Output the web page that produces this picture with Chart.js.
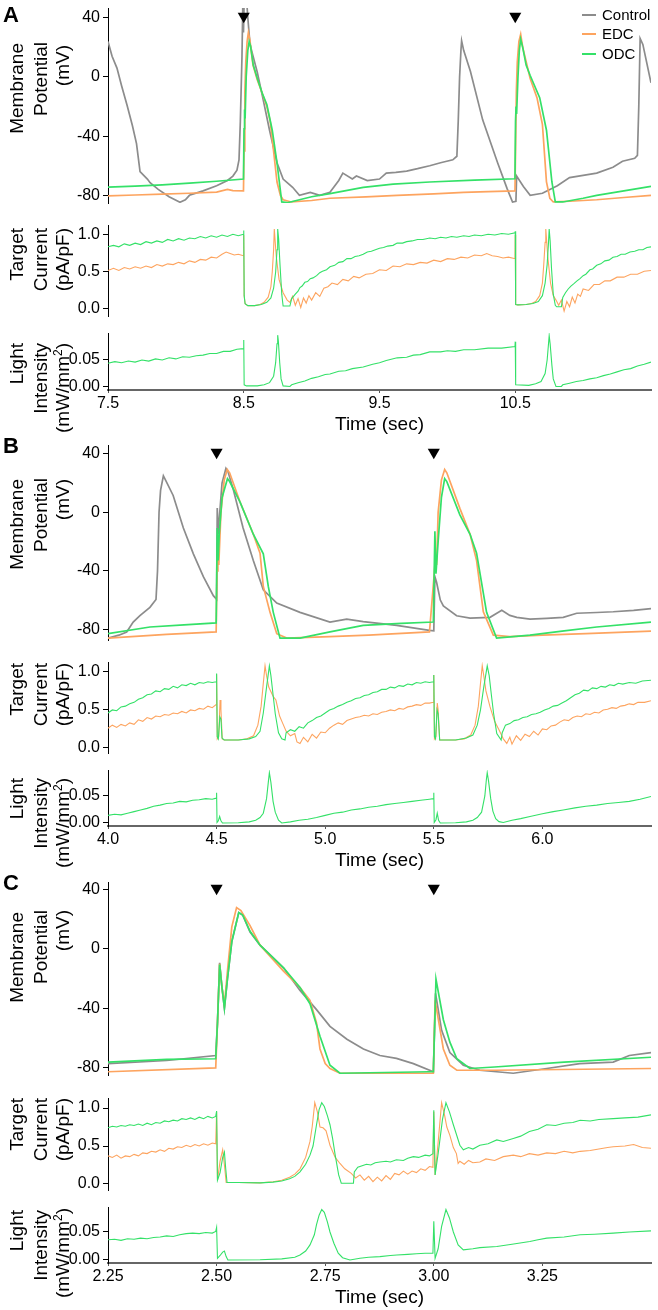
<!DOCTYPE html>
<html><head><meta charset="utf-8">
<script src="https://cdn.jsdelivr.net/npm/chart.js@4.4.1/dist/chart.umd.min.js"></script>
<style>
body{margin:0;background:#fff;width:658px;height:1310px;position:relative;overflow:hidden;font-family:"Liberation Sans",Arial,Helvetica,sans-serif;color:#000;}
canvas{position:absolute;left:0;}
.yt{position:absolute;width:150px;height:22px;line-height:22px;font-size:19px;white-space:nowrap;text-align:right;transform-origin:0 0;transform:rotate(-90deg);}
.yt sup{font-size:12px;line-height:0;}
.pl{position:absolute;left:3px;font-size:22px;font-weight:bold;line-height:22px;}
.lg{position:absolute;left:602px;font-size:15px;line-height:18px;white-space:nowrap;}
.ls{position:absolute;left:582px;width:14px;height:2px;}
</style></head>
<body>
<canvas id="aMem" width="658" height="210" style="top:0px"></canvas>
<canvas id="aCur" width="658" height="105" style="top:215px"></canvas>
<canvas id="aLight" width="658" height="115" style="top:325px"></canvas>
<canvas id="bMem" width="658" height="210" style="top:437px"></canvas>
<canvas id="bCur" width="658" height="105" style="top:652px"></canvas>
<canvas id="bLight" width="658" height="114" style="top:762px"></canvas>
<canvas id="cMem" width="658" height="208" style="top:874px"></canvas>
<canvas id="cCur" width="658" height="106" style="top:1088px"></canvas>
<canvas id="cLight" width="658" height="114" style="top:1199px"></canvas>

<div class="pl" style="top:4px">A</div>
<div class="pl" style="top:435px">B</div>
<div class="pl" style="top:872px">C</div>

<div class="yt" style="left:6px;top:193px">Membrane</div>
<div class="yt" style="left:30px;top:192px">Potential</div>
<div class="yt" style="left:52px;top:195px">(mV)</div>
<div class="yt" style="left:6px;top:378px">Target</div>
<div class="yt" style="left:30px;top:378px">Current</div>
<div class="yt" style="left:52px;top:378px">(pA/pF)</div>
<div class="yt" style="left:6px;top:493px">Light</div>
<div class="yt" style="left:30px;top:493px">Intensity</div>
<div class="yt" style="left:52px;top:493px">(mW/mm<sup>2</sup>)</div>

<div class="yt" style="left:6px;top:629px">Membrane</div>
<div class="yt" style="left:30px;top:628px">Potential</div>
<div class="yt" style="left:52px;top:629px">(mV)</div>
<div class="yt" style="left:6px;top:813px">Target</div>
<div class="yt" style="left:30px;top:813px">Current</div>
<div class="yt" style="left:52px;top:813px">(pA/pF)</div>
<div class="yt" style="left:6px;top:928px">Light</div>
<div class="yt" style="left:30px;top:928px">Intensity</div>
<div class="yt" style="left:52px;top:928px">(mW/mm<sup>2</sup>)</div>

<div class="yt" style="left:6px;top:1062px">Membrane</div>
<div class="yt" style="left:30px;top:1060px">Potential</div>
<div class="yt" style="left:52px;top:1060px">(mV)</div>
<div class="yt" style="left:6px;top:1248px">Target</div>
<div class="yt" style="left:30px;top:1248px">Current</div>
<div class="yt" style="left:52px;top:1248px">(pA/pF)</div>
<div class="yt" style="left:6px;top:1360px">Light</div>
<div class="yt" style="left:30px;top:1360px">Intensity</div>
<div class="yt" style="left:52px;top:1358px">(mW/mm<sup>2</sup>)</div>

<div class="ls" style="top:14px;background:#8c8c8c"></div><div class="lg" style="top:6px">Control</div>
<div class="ls" style="top:33px;background:#fda45f"></div><div class="lg" style="top:25px">EDC</div>
<div class="ls" style="top:53px;background:#34e168"></div><div class="lg" style="top:45px">ODC</div>

<script>
// ---------- series names / colours ----------
const SERIES = ['Control', 'EDC', 'ODC'];
const GRAY = '#8c8c8c', ORANGE = '#fda45f', GREEN = '#34e168';

// ---------- tick values and labels ----------
const MEM_TICKS = [40, 0, -40, -80];
const MEM_LABELS = ['40', '0', '-40', '-80'];
const CUR_TICKS = [1.0, 0.5, 0.0];
const CUR_LABELS = ['1.0', '0.5', '0.0'];
const LIGHT_TICKS = [0.05, 0.0];
const LIGHT_LABELS = ['0.05', '0.00'];
const A_XTICKS = [7.5, 8.5, 9.5, 10.5];
const A_XLABELS = ['7.5', '8.5', '9.5', '10.5'];
const B_XTICKS = [4.0, 4.5, 5.0, 5.5, 6.0];
const B_XLABELS = ['4.0', '4.5', '5.0', '5.5', '6.0'];
const C_XTICKS = [2.25, 2.5, 2.75, 3.0, 3.25];
const C_XLABELS = ['2.25', '2.50', '2.75', '3.00', '3.25'];

// ---------- stimulus markers (time, mV) ----------
const A_STIM = [8.5, 10.5];
const B_STIM = [4.5, 5.5];
const C_STIM = [2.5, 3.0];
const STIM_MV = 41;

// ---------- Panel A: membrane potential (sec, mV) ----------
const A_MEM_CONTROL = [[7.5,24],[7.53,14],[7.566,6],[7.6,-6],[7.64,-19],[7.68,-33],[7.71,-45],[7.736,-64],[7.79,-69],[7.81,-71.5],[7.87,-76],[7.95,-81],[8.03,-84.7],[8.07,-83],[8.10,-80],[8.2,-77],[8.30,-73.5],[8.38,-70],[8.42,-67],[8.45,-63],[8.465,-56],[8.475,-30],[8.487,14],[8.495,60],[8.498,30],[8.505,60],[8.515,60],[8.53,40],[8.546,22],[8.6,3],[8.64,-14],[8.69,-36],[8.745,-58],[8.79,-69],[8.86,-74.6],[8.91,-80],[8.99,-78],[9.06,-80],[9.135,-78],[9.2,-70],[9.23,-65],[9.30,-69],[9.33,-67],[9.41,-70],[9.50,-69],[9.55,-65],[9.62,-64.5],[9.70,-63.6],[9.78,-62],[9.87,-60],[9.95,-58],[10.04,-56],[10.07,-53.6],[10.08,-30],[10.09,0],[10.1,18],[10.105,24.4],[10.12,18],[10.17,3.7],[10.26,-29],[10.37,-58],[10.44,-75.5],[10.48,-84.5],[10.505,-84],[10.51,-67],[10.56,-74],[10.61,-80],[10.70,-78.6],[10.81,-73.5],[10.90,-68],[11.0,-66.5],[11.1,-65],[11.22,-61],[11.29,-57],[11.38,-55],[11.40,-53],[11.41,-20],[11.42,26],[11.44,22],[11.47,9],[11.5,-4]];
const A_MEM_EDC = [[7.5,-80.4],[7.7,-79.8],[7.9,-79.2],[8.1,-78.6],[8.3,-77.8],[8.38,-76],[8.42,-76.8],[8.498,-77],[8.502,-50],[8.508,-10],[8.515,10],[8.525,24],[8.534,29.9],[8.545,25],[8.568,8],[8.6,-2],[8.64,-12],[8.67,-20],[8.695,-30],[8.716,-47],[8.745,-71],[8.77,-80],[8.79,-83],[8.85,-84.5],[9.0,-83.5],[9.135,-82],[9.4,-81],[9.63,-80],[9.9,-79],[10.12,-78],[10.3,-77.5],[10.498,-77],[10.502,-50],[10.508,-10],[10.515,10],[10.527,24],[10.54,28.8],[10.555,20],[10.61,-1],[10.66,-14],[10.70,-32],[10.73,-71],[10.755,-82],[10.78,-84.5],[10.9,-84],[11.1,-83],[11.3,-81.5],[11.5,-80]];
const A_MEM_ODC = [[7.5,-74.5],[7.7,-73.8],[7.9,-73],[8.1,-71.8],[8.3,-70.5],[8.498,-69],[8.502,-35],[8.506,-22],[8.51,-28],[8.518,0],[8.53,18],[8.54,24],[8.55,21],[8.57,8],[8.6,-1],[8.64,-12],[8.67,-18.6],[8.71,-36],[8.745,-58],[8.78,-84.5],[8.82,-85],[9.0,-81],[9.135,-78.9],[9.38,-74.6],[9.6,-72.5],[9.87,-71],[10.2,-69.8],[10.498,-68.8],[10.502,-30],[10.506,-20],[10.51,-25],[10.52,0],[10.53,18],[10.54,25.5],[10.555,20],[10.58,8],[10.61,1],[10.68,-14],[10.73,-36],[10.77,-71],[10.795,-84.5],[10.85,-84.5],[11.0,-82],[11.1,-80],[11.3,-77],[11.5,-74]];

// ---------- Panel A: target current (sec, pA/pF) ----------
const A_CUR_EDC = [[7.50,.52],[7.54,.55],[7.58,.52],[7.62,.56],[7.66,.54],[7.70,.57],[7.74,.55],[7.78,.58],[7.82,.56],[7.86,.60],[7.90,.58],[7.94,.61],[7.98,.60],[8.02,.63],[8.06,.61],[8.10,.65],[8.14,.63],[8.18,.67],[8.22,.66],[8.26,.70],[8.30,.69],[8.34,.74],[8.37,.77],[8.40,.75],[8.43,.73],[8.46,.74],[8.498,.72],[8.5,1.0],[8.503,.18],[8.51,.07],[8.53,.045],[8.58,.045],[8.62,.06],[8.65,.09],[8.68,.16],[8.70,.3],[8.71,.5],[8.72,.8],[8.725,1.08],[8.732,.9],[8.74,.7],[8.76,.4],[8.79,.22],[8.82,.12],[8.84,.09],[8.86,.17],[8.88,.05],[8.90,.14],[8.92,.02],[8.94,.15],[8.96,.08],[8.98,.18],[9.0,.12],[9.03,.22],[9.06,.17],[9.09,.28],[9.12,.30],[9.15,.35],[9.19,.33],[9.23,.40],[9.27,.38],[9.31,.44],[9.35,.42],[9.4,.47],[9.45,.48],[9.5,.53],[9.55,.52],[9.6,.58],[9.65,.57],[9.7,.61],[9.75,.60],[9.8,.63],[9.85,.62],[9.9,.66],[9.95,.64],[10.0,.68],[10.05,.67],[10.1,.70],[10.15,.69],[10.2,.73],[10.25,.72],[10.29,.75],[10.33,.72],[10.37,.71],[10.41,.69],[10.45,.70],[10.498,.68],[10.5,1.0],[10.503,.06],[10.52,.055],[10.58,.06],[10.62,.075],[10.65,.1],[10.68,.18],[10.70,.35],[10.71,.6],[10.72,.9],[10.725,1.08],[10.732,.9],[10.74,.7],[10.76,.35],[10.78,.18],[10.8,.12],[10.82,.05],[10.84,.12],[10.86,-.03],[10.88,.10],[10.9,.03],[10.92,.16],[10.94,.08],[10.96,.20],[10.98,.17],[11.0,.27],[11.04,.25],[11.08,.33],[11.12,.33],[11.16,.38],[11.2,.38],[11.25,.43],[11.3,.43],[11.35,.47],[11.4,.47],[11.45,.51],[11.5,.52]];
const A_CUR_ODC = [[7.50,.84],[7.54,.86],[7.58,.84],[7.62,.88],[7.66,.86],[7.70,.89],[7.74,.87],[7.78,.91],[7.82,.89],[7.86,.92],[7.90,.90],[7.94,.94],[7.98,.92],[8.02,.95],[8.06,.93],[8.10,.96],[8.14,.95],[8.18,.98],[8.22,.96],[8.26,.99],[8.30,.97],[8.34,1.0],[8.38,.98],[8.42,1.01],[8.46,.99],[8.498,1.01],[8.5,1.06],[8.503,.18],[8.51,.07],[8.53,.045],[8.58,.045],[8.63,.06],[8.67,.09],[8.70,.15],[8.72,.28],[8.735,.5],[8.745,.8],[8.75,1.08],[8.757,.95],[8.767,.6],[8.78,.2],[8.79,.04],[8.84,.04],[8.853,.14],[8.88,.2],[8.9,.24],[8.914,.29],[8.93,.31],[8.95,.36],[8.97,.37],[8.99,.41],[9.01,.42],[9.037,.45],[9.06,.49],[9.08,.51],[9.11,.53],[9.135,.57],[9.17,.59],[9.2,.63],[9.23,.64],[9.26,.68],[9.29,.68],[9.32,.71],[9.35,.72],[9.38,.74],[9.41,.77],[9.44,.78],[9.47,.80],[9.5,.82],[9.53,.83],[9.56,.85],[9.6,.86],[9.63,.89],[9.67,.89],[9.7,.91],[9.74,.92],[9.78,.94],[9.82,.94],[9.87,.96],[9.91,.95],[9.95,.97],[9.99,.96],[10.03,.98],[10.07,.97],[10.12,.99],[10.16,.98],[10.2,1.0],[10.25,.99],[10.3,1.01],[10.35,1.0],[10.4,1.02],[10.45,1.01],[10.498,1.03],[10.5,1.05],[10.503,.06],[10.52,.055],[10.58,.06],[10.63,.075],[10.67,.1],[10.7,.18],[10.72,.35],[10.735,.6],[10.745,.9],[10.75,1.08],[10.757,.92],[10.767,.55],[10.78,.2],[10.795,.05],[10.805,.03],[10.84,.03],[10.85,.155],[10.87,.22],[10.89,.27],[10.91,.31],[10.93,.34],[10.955,.38],[10.977,.41],[11.0,.45],[11.02,.47],[11.05,.53],[11.07,.54],[11.1,.59],[11.13,.61],[11.16,.65],[11.19,.66],[11.22,.70],[11.25,.71],[11.28,.74],[11.31,.74],[11.345,.77],[11.38,.78],[11.41,.80],[11.44,.80],[11.47,.83],[11.5,.84]];

// ---------- Panel A: light intensity (sec, mW/mm2) ----------
const A_LIGHT_ODC = [[7.5,.044],[7.55,.047],[7.6,.045],[7.65,.048],[7.7,.046],[7.75,.050],[7.8,.048],[7.85,.052],[7.9,.050],[7.95,.054],[8.0,.052],[8.05,.056],[8.1,.055],[8.15,.058],[8.2,.059],[8.25,.062],[8.3,.062],[8.35,.066],[8.4,.066],[8.45,.070],[8.498,.071],[8.5,.087],[8.503,.004],[8.52,.002],[8.6,.002],[8.65,.004],[8.69,.008],[8.72,.02],[8.735,.045],[8.745,.08],[8.75,.096],[8.755,.085],[8.765,.045],[8.775,.015],[8.79,.002],[8.84,.001],[8.853,.004],[8.9,.008],[8.95,.011],[9.0,.016],[9.05,.019],[9.1,.023],[9.135,.024],[9.2,.029],[9.25,.030],[9.3,.034],[9.38,.037],[9.45,.042],[9.5,.045],[9.55,.049],[9.63,.054],[9.7,.055],[9.75,.059],[9.8,.060],[9.87,.065],[9.95,.065],[10.0,.067],[10.06,.066],[10.12,.069],[10.2,.069],[10.3,.072],[10.4,.072],[10.498,.075],[10.5,.084],[10.503,.004],[10.6,.003],[10.65,.006],[10.69,.01],[10.72,.025],[10.735,.05],[10.745,.08],[10.75,.095],[10.757,.08],[10.77,.04],[10.78,.015],[10.8,.001],[10.84,.001],[10.85,.004],[10.9,.007],[10.95,.010],[11.0,.012],[11.05,.015],[11.1,.017],[11.15,.021],[11.2,.024],[11.25,.028],[11.3,.032],[11.35,.034],[11.4,.039],[11.45,.042],[11.5,.046]];

// ---------- Panel B: membrane potential ----------
const B_MEM_CONTROL = [[4.0,-86],[4.05,-84],[4.086,-81.8],[4.116,-75],[4.147,-70.7],[4.193,-65],[4.221,-59.6],[4.228,-40],[4.235,0],[4.242,15],[4.255,24.9],[4.265,22],[4.30,11.5],[4.347,-10.7],[4.393,-28.4],[4.439,-44],[4.485,-57],[4.5,-59.5],[4.503,3],[4.507,-15],[4.512,-5],[4.525,20],[4.543,30],[4.552,28],[4.576,16],[4.622,-10.7],[4.669,-33],[4.715,-53],[4.777,-62],[4.884,-68.4],[5.022,-75],[5.099,-73],[5.175,-74.7],[5.329,-77.3],[5.48,-80.7],[5.5,-81],[5.505,-44],[5.513,-48],[5.53,-60],[5.544,-64],[5.605,-70.7],[5.667,-72.4],[5.759,-71.8],[5.79,-69],[5.813,-67],[5.85,-70.5],[5.882,-71.8],[5.943,-73],[6.02,-72.5],[6.096,-71.8],[6.158,-69],[6.25,-68.5],[6.326,-68],[6.42,-67],[6.5,-65.8]];
const B_MEM_EDC = [[4.0,-86],[4.27,-83.5],[4.498,-81.8],[4.502,-40],[4.506,-30],[4.51,-36],[4.52,0],[4.535,22],[4.549,29.3],[4.56,27],[4.608,7],[4.669,-15],[4.70,-28],[4.715,-50.7],[4.746,-68.4],[4.777,-83],[4.823,-86],[5.02,-85],[5.2,-84],[5.48,-81.8],[5.502,-42],[5.508,-30],[5.513,-36],[5.52,0],[5.535,22],[5.55,29.3],[5.56,27],[5.62,2.7],[5.667,-15],[5.697,-33],[5.728,-68],[5.774,-84],[5.85,-85],[6.0,-84],[6.2,-83],[6.5,-81.3]];
const B_MEM_ODC = [[4.0,-82.9],[4.193,-78.4],[4.35,-77],[4.498,-75.6],[4.503,-10.7],[4.507,-33],[4.512,-15],[4.525,10],[4.55,23],[4.56,21],[4.608,7],[4.669,-15],[4.715,-28.4],[4.738,-50.7],[4.761,-68.4],[4.792,-86],[4.884,-86],[5.022,-81.8],[5.175,-77.3],[5.35,-76],[5.498,-75],[5.505,-13],[5.51,-42],[5.52,-20],[5.535,10],[5.55,23],[5.56,21],[5.62,-1.8],[5.667,-15],[5.697,-28],[5.743,-68.4],[5.789,-86],[5.943,-84],[6.1,-81],[6.25,-78.4],[6.5,-75.1]];

// ---------- Panel B: target current ----------
const B_CUR_EDC = [[4.00,.26],[4.02,.30],[4.04,.27],[4.06,.31],[4.08,.29],[4.10,.33],[4.12,.31],[4.14,.37],[4.16,.35],[4.18,.40],[4.20,.38],[4.22,.42],[4.24,.41],[4.26,.44],[4.28,.43],[4.30,.46],[4.32,.45],[4.34,.48],[4.36,.46],[4.38,.50],[4.40,.49],[4.42,.52],[4.44,.51],[4.46,.55],[4.48,.53],[4.498,.57],[4.5,.97],[4.503,.12],[4.51,.15],[4.516,.63],[4.52,.5],[4.526,.12],[4.535,.105],[4.6,.105],[4.64,.12],[4.67,.16],[4.69,.3],[4.705,.55],[4.715,.85],[4.723,1.08],[4.73,.95],[4.74,.8],[4.76,.68],[4.773,.63],[4.79,.42],[4.805,.32],[4.82,.22],[4.84,.16],[4.86,.19],[4.87,.08],[4.884,.06],[4.9,.14],[4.92,.08],[4.94,.18],[4.96,.13],[4.98,.21],[5.0,.20],[5.02,.26],[5.04,.30],[5.06,.33],[5.08,.31],[5.1,.36],[5.12,.38],[5.14,.40],[5.16,.41],[5.18,.43],[5.2,.42],[5.22,.45],[5.24,.44],[5.26,.47],[5.28,.48],[5.3,.50],[5.32,.49],[5.34,.52],[5.36,.51],[5.38,.54],[5.4,.55],[5.42,.57],[5.44,.56],[5.46,.59],[5.48,.59],[5.498,.60],[5.5,.96],[5.503,.12],[5.51,.15],[5.516,.59],[5.52,.5],[5.527,.105],[5.6,.105],[5.64,.12],[5.67,.17],[5.69,.3],[5.705,.55],[5.715,.85],[5.723,1.08],[5.73,.95],[5.74,.75],[5.759,.54],[5.78,.35],[5.8,.24],[5.81,.18],[5.82,.12],[5.836,.06],[5.85,.14],[5.86,.05],[5.88,.16],[5.9,.10],[5.92,.18],[5.94,.15],[5.96,.22],[5.98,.17],[6.0,.25],[6.02,.24],[6.04,.29],[6.06,.30],[6.08,.34],[6.1,.37],[6.12,.36],[6.14,.40],[6.16,.42],[6.18,.41],[6.2,.45],[6.22,.44],[6.24,.47],[6.26,.46],[6.28,.50],[6.3,.51],[6.32,.53],[6.34,.52],[6.36,.55],[6.38,.56],[6.4,.58],[6.42,.57],[6.44,.60],[6.47,.60],[6.5,.62]];
const B_CUR_ODC = [[4.00,.46],[4.02,.50],[4.04,.49],[4.06,.54],[4.08,.55],[4.10,.58],[4.12,.60],[4.14,.64],[4.16,.66],[4.18,.70],[4.20,.71],[4.22,.75],[4.24,.74],[4.26,.78],[4.28,.77],[4.30,.81],[4.32,.79],[4.34,.83],[4.36,.82],[4.38,.85],[4.40,.83],[4.42,.86],[4.44,.85],[4.46,.87],[4.48,.86],[4.498,.87],[4.5,.98],[4.503,.15],[4.508,.12],[4.515,.41],[4.52,.38],[4.525,.13],[4.535,.105],[4.6,.105],[4.65,.12],[4.68,.15],[4.7,.22],[4.715,.46],[4.73,.8],[4.743,1.08],[4.75,.95],[4.76,.7],[4.77,.45],[4.785,.2],[4.8,.12],[4.815,.105],[4.82,.2],[4.84,.24],[4.86,.22],[4.88,.28],[4.9,.26],[4.92,.33],[4.94,.36],[4.96,.40],[4.98,.42],[5.0,.46],[5.02,.50],[5.04,.52],[5.06,.55],[5.08,.57],[5.10,.60],[5.12,.62],[5.14,.65],[5.16,.66],[5.18,.69],[5.2,.70],[5.22,.73],[5.24,.74],[5.26,.77],[5.28,.77],[5.3,.80],[5.32,.79],[5.34,.82],[5.36,.81],[5.38,.84],[5.40,.83],[5.42,.86],[5.44,.85],[5.46,.87],[5.48,.86],[5.498,.87],[5.5,.96],[5.503,.15],[5.508,.12],[5.515,.5],[5.52,.45],[5.527,.105],[5.6,.105],[5.65,.13],[5.68,.17],[5.7,.3],[5.715,.5],[5.73,.8],[5.746,1.08],[5.755,.95],[5.765,.7],[5.775,.46],[5.79,.19],[5.81,.105],[5.815,.2],[5.83,.30],[5.85,.32],[5.87,.36],[5.89,.37],[5.91,.40],[5.93,.41],[5.95,.44],[5.97,.45],[5.99,.47],[6.01,.50],[6.03,.52],[6.05,.55],[6.07,.56],[6.09,.59],[6.11,.62],[6.13,.66],[6.15,.70],[6.17,.72],[6.19,.76],[6.21,.75],[6.23,.79],[6.25,.78],[6.27,.81],[6.29,.80],[6.31,.83],[6.33,.82],[6.35,.85],[6.37,.84],[6.40,.86],[6.43,.85],[6.46,.88],[6.5,.89]];

// ---------- Panel B: light intensity ----------
const B_LIGHT_ODC = [[4.00,.014],[4.03,.016],[4.06,.015],[4.09,.018],[4.12,.021],[4.15,.024],[4.18,.027],[4.21,.031],[4.24,.033],[4.27,.036],[4.30,.037],[4.33,.040],[4.36,.039],[4.39,.042],[4.42,.043],[4.45,.045],[4.48,.044],[4.498,.046],[4.5,.056],[4.502,.001],[4.508,.004],[4.514,.012],[4.52,.004],[4.527,.0],[4.6,.0005],[4.65,.002],[4.68,.005],[4.7,.01],[4.715,.018],[4.73,.045],[4.738,.075],[4.743,.093],[4.75,.075],[4.76,.04],[4.77,.02],[4.785,.005],[4.8,.0],[4.84,.002],[4.88,.005],[4.92,.007],[4.96,.010],[5.0,.014],[5.04,.018],[5.08,.020],[5.12,.024],[5.16,.026],[5.2,.029],[5.24,.031],[5.28,.034],[5.32,.036],[5.36,.038],[5.40,.040],[5.44,.042],[5.48,.044],[5.498,.045],[5.5,.056],[5.502,.001],[5.51,.006],[5.516,.018],[5.522,.005],[5.53,.0],[5.6,.0005],[5.65,.002],[5.68,.005],[5.7,.01],[5.72,.02],[5.735,.05],[5.742,.08],[5.746,.093],[5.752,.078],[5.762,.045],[5.772,.022],[5.785,.008],[5.8,.0025],[5.82,.001],[5.86,.005],[5.9,.008],[5.943,.012],[6.0,.017],[6.05,.021],[6.096,.024],[6.15,.028],[6.2,.031],[6.25,.033],[6.3,.036],[6.35,.038],[6.4,.040],[6.45,.044],[6.5,.049]];

// ---------- Panel C: membrane potential ----------
const C_MEM_CONTROL = [[2.25,-77.5],[2.385,-75.4],[2.498,-72],[2.502,-50],[2.507,-9.4],[2.512,-25],[2.518,-40],[2.525,-20],[2.535,5],[2.551,24.6],[2.56,23],[2.577,11.5],[2.6,2.6],[2.654,-12.7],[2.692,-28],[2.73,-41],[2.761,-52.3],[2.80,-61],[2.838,-67.6],[2.876,-72],[2.914,-74],[2.953,-77.5],[2.999,-83],[3.004,-30],[3.018,-55],[3.037,-70],[3.068,-78.6],[3.106,-82],[3.183,-84],[3.26,-80.8],[3.336,-77.5],[3.413,-76.5],[3.45,-72],[3.5,-70]];
const C_MEM_EDC = [[2.25,-83],[2.498,-80.4],[2.502,-50],[2.507,-10],[2.512,-25],[2.518,-38],[2.525,-15],[2.535,15],[2.546,28],[2.556,26],[2.577,15.8],[2.6,2.6],[2.654,-15],[2.692,-26],[2.715,-34.7],[2.73,-50],[2.738,-67.6],[2.75,-77.5],[2.761,-80.8],[2.784,-84],[2.999,-84],[3.003,-34.7],[3.022,-67.6],[3.037,-78.6],[3.053,-82],[3.14,-82],[3.5,-80.8]];
const C_MEM_ODC = [[2.25,-76.5],[2.385,-74.7],[2.498,-74.2],[2.502,-50],[2.507,-10.5],[2.512,-25],[2.518,-40],[2.525,-20],[2.535,5],[2.551,24.6],[2.56,23],[2.577,12],[2.6,2.6],[2.654,-12.7],[2.692,-26],[2.715,-37],[2.738,-59],[2.761,-78.6],[2.784,-84],[2.99,-83],[2.999,-83],[3.005,-20.4],[3.022,-47.8],[3.037,-63],[3.053,-74.2],[3.083,-80.8],[3.14,-79.8],[3.3,-76.5],[3.5,-73.2]];

// ---------- Panel C: target current ----------
const C_CUR_EDC = [[2.25,.37],[2.26,.35],[2.27,.38],[2.28,.34],[2.29,.37],[2.30,.36],[2.31,.39],[2.32,.37],[2.33,.41],[2.34,.40],[2.35,.43],[2.36,.42],[2.37,.45],[2.38,.43],[2.39,.47],[2.40,.46],[2.41,.49],[2.42,.48],[2.43,.51],[2.44,.49],[2.45,.52],[2.46,.50],[2.47,.53],[2.48,.51],[2.49,.54],[2.498,.53],[2.5,.95],[2.502,.05],[2.508,.3],[2.514,.45],[2.518,.25],[2.522,.02],[2.55,.02],[2.6,.015],[2.63,.03],[2.65,.05],[2.668,.09],[2.68,.13],[2.692,.2],[2.705,.35],[2.715,.56],[2.72,.75],[2.726,1.07],[2.732,.95],[2.738,.75],[2.745,.74],[2.752,.7],[2.761,.51],[2.773,.35],[2.784,.27],[2.795,.2],[2.81,.14],[2.82,.08],[2.83,.12],[2.84,.05],[2.85,.10],[2.86,.03],[2.87,.09],[2.88,.04],[2.89,.11],[2.9,.06],[2.91,.14],[2.92,.12],[2.93,.17],[2.94,.13],[2.95,.17],[2.96,.15],[2.97,.2],[2.98,.18],[2.99,.23],[2.998,.22],[3.0,.95],[3.003,.12],[3.01,.55],[3.018,1.07],[3.025,.9],[3.03,.75],[3.037,.64],[3.045,.48],[3.052,.40],[3.056,.27],[3.06,.30],[3.07,.26],[3.08,.31],[3.09,.28],[3.106,.29],[3.12,.33],[3.14,.31],[3.16,.36],[3.183,.38],[3.2,.36],[3.22,.40],[3.24,.38],[3.26,.41],[3.28,.40],[3.3,.43],[3.32,.41],[3.337,.43],[3.36,.44],[3.38,.46],[3.4,.48],[3.413,.49],[3.44,.50],[3.46,.52],[3.48,.48],[3.5,.47]];
const C_CUR_ODC = [[2.25,.74],[2.26,.76],[2.27,.75],[2.28,.77],[2.29,.76],[2.30,.78],[2.31,.77],[2.32,.79],[2.33,.77],[2.34,.80],[2.35,.78],[2.36,.81],[2.37,.80],[2.38,.83],[2.39,.82],[2.40,.84],[2.41,.83],[2.42,.86],[2.43,.85],[2.44,.87],[2.45,.85],[2.46,.88],[2.47,.86],[2.48,.89],[2.49,.87],[2.498,.89],[2.5,.96],[2.502,.05],[2.508,.15],[2.514,.35],[2.518,.42],[2.521,.2],[2.524,.02],[2.55,.02],[2.6,.015],[2.63,.025],[2.65,.04],[2.668,.07],[2.68,.1],[2.692,.16],[2.705,.26],[2.715,.38],[2.722,.5],[2.73,.78],[2.736,.98],[2.742,1.07],[2.748,1.02],[2.755,.9],[2.761,.78],[2.767,.6],[2.773,.38],[2.781,.12],[2.787,.01],[2.815,.01],[2.817,.16],[2.825,.22],[2.835,.24],[2.845,.26],[2.855,.25],[2.865,.28],[2.876,.29],[2.89,.30],[2.9,.29],[2.914,.32],[2.93,.31],[2.94,.34],[2.953,.36],[2.965,.35],[2.98,.38],[2.99,.37],[2.998,.40],[3.0,.97],[3.003,.12],[3.01,.4],[3.02,.85],[3.028,1.07],[3.036,.95],[3.045,.78],[3.06,.51],[3.068,.45],[3.08,.48],[3.09,.46],[3.106,.51],[3.125,.53],[3.145,.58],[3.16,.56],[3.183,.60],[3.2,.63],[3.22,.69],[3.24,.72],[3.26,.78],[3.28,.77],[3.3,.80],[3.32,.81],[3.337,.84],[3.36,.83],[3.38,.85],[3.413,.86],[3.44,.87],[3.47,.88],[3.5,.91]];

// ---------- Panel C: light intensity ----------
const C_LIGHT_ODC = [[2.25,.036],[2.265,.037],[2.28,.035],[2.295,.038],[2.31,.037],[2.325,.039],[2.34,.038],[2.355,.040],[2.37,.041],[2.385,.043],[2.4,.042],[2.415,.045],[2.43,.047],[2.445,.048],[2.46,.047],[2.475,.049],[2.49,.048],[2.498,.051],[2.5,.058],[2.502,.003],[2.508,.008],[2.514,.014],[2.518,.016],[2.522,.006],[2.526,.0],[2.6,.0005],[2.65,.002],[2.68,.005],[2.692,.009],[2.705,.016],[2.715,.027],[2.725,.045],[2.73,.063],[2.736,.08],[2.742,.09],[2.748,.085],[2.755,.068],[2.761,.05],[2.77,.03],[2.78,.012],[2.79,.004],[2.807,.0],[2.83,.003],[2.85,.005],[2.876,.006],[2.9,.008],[2.915,.009],[2.94,.010],[2.96,.011],[2.98,.012],[2.998,.012],[3.0,.069],[3.003,.003],[3.01,.02],[3.018,.06],[3.028,.09],[3.036,.075],[3.045,.05],[3.056,.027],[3.068,.018],[3.09,.02],[3.106,.022],[3.145,.024],[3.18,.028],[3.221,.033],[3.24,.036],[3.26,.039],[3.3,.041],[3.337,.045],[3.37,.046],[3.413,.048],[3.45,.050],[3.5,.052]];

// ---------- helpers ----------
Chart.defaults.font.family = '"Liberation Sans", Arial, Helvetica, sans-serif';
Chart.defaults.color = '#000';

function xy(a) { return a.map(p => ({ x: p[0], y: p[1] })); }
function trace(label, data, color, width, order) {
  return { label: label, data: xy(data), borderColor: color, backgroundColor: color, borderWidth: width,
           pointRadius: 0, pointHoverRadius: 0, fill: false, tension: 0, order: order };
}
function marks(times, v) {
  return { label: 'stimulus', data: times.map(t => ({ x: t, y: v })), showLine: false,
           pointStyle: 'triangle', pointRotation: 180, pointRadius: 7, pointHoverRadius: 7,
           pointBackgroundColor: '#000', pointBorderColor: '#000', pointBorderWidth: 0, order: 0 };
}
function makeChart(id, o) {
  const zeroPad = s => { s.paddingTop = 0; s.paddingBottom = 0; s.paddingLeft = 0; s.paddingRight = 0; };
  return new Chart(document.getElementById(id), {
    type: 'line',
    data: { datasets: o.datasets },
    options: {
      responsive: false, animation: false, events: [],
      layout: { padding: { top: o.pt, bottom: o.pb, left: 0, right: 7 } },
      plugins: { legend: { display: false }, tooltip: { enabled: false } },
      scales: {
        x: {
          type: 'linear', min: o.xmin, max: o.xmax, display: o.showX,
          afterBuildTicks: s => { s.ticks = o.xticks.map(v => ({ value: v })); },
          afterFit: s => { s.height = o.showX ? 50 : 0; zeroPad(s); },
          grid: { drawOnChartArea: false, drawTicks: true, tickLength: 3, color: '#555', lineWidth: 1 },
          border: { display: true, color: '#666', width: 2 },
          ticks: { font: { size: 16 }, color: '#000', padding: 1, maxRotation: 0, autoSkip: false,
                   callback: v => o.xlabels[o.xticks.indexOf(v)] },
          title: { display: true, text: 'Time (sec)', font: { size: 19 }, color: '#000', padding: { top: 4, bottom: 4 } }
        },
        y: {
          type: 'linear', min: o.ymin, max: o.ymax,
          afterBuildTicks: s => { s.ticks = o.yticks.map(v => ({ value: v })); },
          afterFit: s => { s.width = 108; zeroPad(s); },
          grid: { drawOnChartArea: false, drawTicks: true, tickLength: 5, color: '#000', lineWidth: 1 },
          border: { display: true, color: '#000', width: 1 },
          ticks: { font: { size: 16 }, color: '#000', padding: 3, autoSkip: false,
                   callback: v => o.ylabels[o.yticks.indexOf(v)] }
        }
      }
    }
  });
}
function memSets(stim, ctrl, edc, odc) {
  return [marks(stim, STIM_MV), trace(SERIES[2], odc, GREEN, 1.7, 1), trace(SERIES[1], edc, ORANGE, 1.7, 2), trace(SERIES[0], ctrl, GRAY, 1.7, 3)];
}
function curSets(edc, odc) {
  return [trace(SERIES[2], odc, GREEN, 1.1, 1), trace(SERIES[1], edc, ORANGE, 1.1, 2)];
}

// ---------- Panel A ----------
makeChart('aMem', { datasets: memSets(A_STIM, A_MEM_CONTROL, A_MEM_EDC, A_MEM_ODC), pt: 8, pb: 2, xmin: 7.5, xmax: 11.5, showX: false,
  xticks: A_XTICKS, xlabels: A_XLABELS, ymin: -85.2, ymax: 46.6, yticks: MEM_TICKS, ylabels: MEM_LABELS });
makeChart('aCur', { datasets: curSets(A_CUR_EDC, A_CUR_ODC), pt: 10, pb: 4, xmin: 7.5, xmax: 11.5, showX: false,
  xticks: A_XTICKS, xlabels: A_XLABELS, ymin: -0.095, ymax: 1.135, yticks: CUR_TICKS, ylabels: CUR_LABELS });
makeChart('aLight', { datasets: [trace(SERIES[2], A_LIGHT_ODC, GREEN, 1.1, 1)], pt: 8, pb: 0, xmin: 7.5, xmax: 11.5, showX: true,
  xticks: A_XTICKS, xlabels: A_XLABELS, ymin: -0.0056, ymax: 0.1, yticks: LIGHT_TICKS, ylabels: LIGHT_LABELS });

// ---------- Panel B ----------
makeChart('bMem', { datasets: memSets(B_STIM, B_MEM_CONTROL, B_MEM_EDC, B_MEM_ODC), pt: 8, pb: 2, xmin: 4.0, xmax: 6.5, showX: false,
  xticks: B_XTICKS, xlabels: B_XLABELS, ymin: -87.3, ymax: 46, yticks: MEM_TICKS, ylabels: MEM_LABELS });
makeChart('bCur', { datasets: curSets(B_CUR_EDC, B_CUR_ODC), pt: 10, pb: 4, xmin: 4.0, xmax: 6.5, showX: false,
  xticks: B_XTICKS, xlabels: B_XLABELS, ymin: -0.066, ymax: 1.13, yticks: CUR_TICKS, ylabels: CUR_LABELS });
makeChart('bLight', { datasets: [trace(SERIES[2], B_LIGHT_ODC, GREEN, 1.1, 1)], pt: 8, pb: 0, xmin: 4.0, xmax: 6.5, showX: true,
  xticks: B_XTICKS, xlabels: B_XLABELS, ymin: -0.0056, ymax: 0.098, yticks: LIGHT_TICKS, ylabels: LIGHT_LABELS });

// ---------- Panel C ----------
makeChart('cMem', { datasets: memSets(C_STIM, C_MEM_CONTROL, C_MEM_EDC, C_MEM_ODC), pt: 8, pb: 2, xmin: 2.25, xmax: 3.5, showX: false,
  xticks: C_XTICKS, xlabels: C_XLABELS, ymin: -85.2, ymax: 45.3, yticks: MEM_TICKS, ylabels: MEM_LABELS });
makeChart('cCur', { datasets: curSets(C_CUR_EDC, C_CUR_ODC), pt: 10, pb: 4, xmin: 2.25, xmax: 3.5, showX: false,
  xticks: C_XTICKS, xlabels: C_XLABELS, ymin: -0.079, ymax: 1.132, yticks: CUR_TICKS, ylabels: CUR_LABELS });
makeChart('cLight', { datasets: [trace(SERIES[2], C_LIGHT_ODC, GREEN, 1.1, 1)], pt: 8, pb: 0, xmin: 2.25, xmax: 3.5, showX: true,
  xticks: C_XTICKS, xlabels: C_XLABELS, ymin: -0.0054, ymax: 0.0946, yticks: LIGHT_TICKS, ylabels: LIGHT_LABELS });
</script>
</body></html>
